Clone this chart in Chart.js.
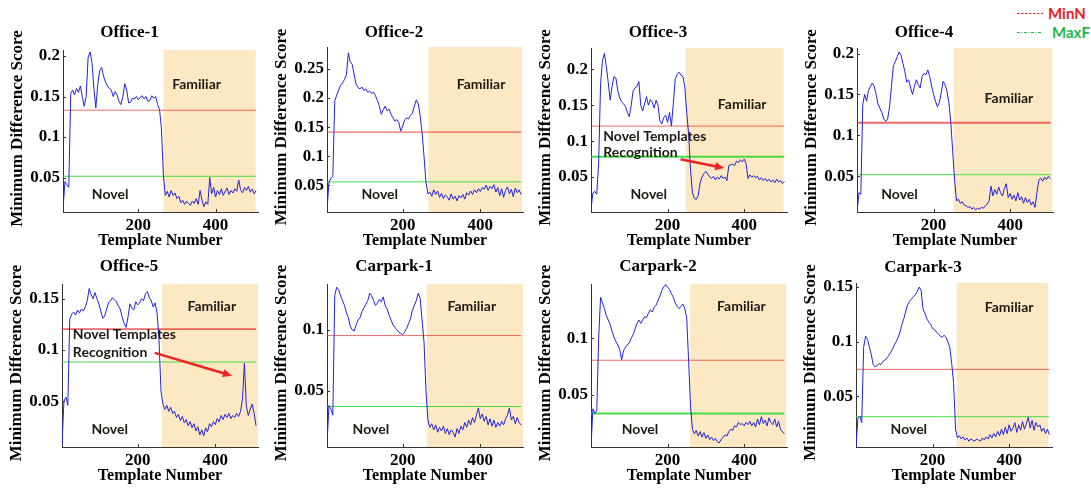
<!DOCTYPE html>
<html>
<head>
<meta charset="utf-8">
<title>Minimum Difference Score</title>
<script src="https://cdn.jsdelivr.net/npm/chart.js@4.4.1/dist/chart.umd.min.js"></script>
<style>
  body { margin: 0; background: #fff; }
  #figure { position: relative; width: 1091px; height: 489px; overflow: hidden; background: #fff; }
  #figure canvas { position: absolute; }
  .key { position: absolute; height: 18px; display: flex; align-items: center; font: bold 15px Lato, "Liberation Sans", sans-serif; }
  .key svg { display: block; }
</style>
</head>
<body>
<div id="figure">
  <div class="key" style="left:1017px; top:4px; color:#ee1c1c;">
    <svg width="27" height="18"><line x1="0" y1="9.5" x2="26" y2="9.5" stroke="#ee1c1c" stroke-width="1" stroke-dasharray="2.5 1.5"/></svg>
    <span style="margin-left:4px">MinN</span>
  </div>
  <div class="key" style="left:1017px; top:23px; color:#1fb845;">
    <svg width="25" height="18"><line x1="0" y1="9.5" x2="25" y2="9.5" stroke="#1fb845" stroke-width="1" stroke-dasharray="3 1.5 1 1.5"/></svg>
    <span style="margin-left:10px">MaxF</span>
  </div>
</div>
<script>
// x values (template number), shared by every panel
const templateNumbers = [0,5,10,15,20,25,30,35,40,45,50,55,60,65,70,75,80,85,90,95,
  100,105,110,115,120,125,130,135,140,145,150,155,160,165,170,175,180,185,190,195,
  200,205,210,215,220,225,230,235,240,245,250,255,260,265,270,275,280,285,290,295,
  300,305,310,315,320,325,330,335,340,345,350,355,360,365,370,375,380,385,390,395,
  400,405,410,415,420,425,430,435,440,445,450,455,460,465,470,475,480,485,490,495,
  500,505];

// minimum difference score
const office1 = [.008,.010,.045,.041,.038,.154,.158,.152,.160,.155,
  .163,.150,.138,.150,.198,.205,.192,.160,.136,.165,
  .182,.186,.175,.168,.163,.160,.158,.150,.156,.152,
  .144,.140,.150,.166,.158,.142,.143,.148,.147,.150,
  .146,.149,.151,.147,.150,.144,.145,.151,.148,.150,
  .140,.134,.110,.052,.028,.033,.026,.034,.028,.031,
  .024,.027,.019,.022,.017,.021,.018,.016,.021,.018,
  .024,.017,.034,.022,.014,.020,.017,.050,.030,.038,
  .026,.034,.029,.036,.028,.033,.037,.029,.034,.031,
  .036,.033,.047,.035,.031,.038,.034,.039,.032,.036,
  .030,.034];
const office2 = [.004,.006,.055,.062,.065,.195,.205,.214,.222,.226,
  .232,.240,.278,.262,.258,.240,.224,.218,.216,.219,
  .213,.216,.210,.212,.208,.210,.204,.196,.186,.172,
  .180,.186,.178,.181,.172,.166,.160,.163,.158,.143,
  .152,.162,.166,.164,.170,.174,.186,.197,.190,.170,
  .140,.100,.055,.035,.038,.031,.042,.034,.040,.029,
  .036,.027,.033,.030,.024,.035,.026,.031,.023,.032,
  .028,.034,.026,.037,.033,.040,.034,.042,.037,.044,
  .039,.046,.043,.050,.041,.048,.044,.051,.038,.046,
  .032,.044,.029,.041,.047,.035,.043,.030,.045,.037,
  .042,.034];
const office3 = [.005,.028,.030,.026,.070,.180,.212,.222,.204,.182,
  .157,.176,.190,.188,.170,.160,.155,.152,.148,.140,
  .134,.150,.170,.174,.176,.183,.150,.142,.152,.162,
  .150,.158,.154,.146,.157,.150,.128,.124,.133,.136,
  .126,.140,.121,.152,.186,.193,.196,.192,.190,.176,
  .140,.110,.060,.028,.020,.019,.024,.042,.050,.055,
  .058,.054,.050,.048,.051,.046,.050,.047,.052,.048,
  .050,.045,.066,.067,.068,.066,.072,.070,.074,.071,
  .075,.069,.048,.053,.050,.052,.049,.051,.046,.049,
  .045,.048,.044,.047,.043,.046,.042,.047,.043,.045,
  .041,.044];
const office4 = [.005,.030,.028,.138,.150,.142,.155,.160,.164,.160,
  .150,.138,.133,.128,.120,.117,.120,.135,.160,.185,
  .190,.196,.202,.198,.188,.178,.165,.168,.158,.150,
  .160,.168,.162,.158,.172,.176,.174,.180,.172,.160,
  .150,.142,.135,.140,.152,.166,.162,.154,.140,.116,
  .080,.045,.020,.022,.017,.019,.015,.014,.012,.013,
  .010,.012,.009,.011,.010,.012,.011,.014,.016,.020,
  .038,.026,.034,.028,.037,.030,.026,.035,.041,.024,
  .029,.022,.027,.020,.030,.021,.025,.017,.024,.018,
  .022,.015,.019,.012,.030,.045,.048,.044,.049,.046,
  .050,.047];
const office5 = [.005,.008,.050,.054,.046,.130,.135,.137,.134,.139,
  .136,.140,.138,.142,.148,.160,.154,.150,.156,.150,
  .145,.138,.131,.133,.140,.146,.148,.151,.149,.147,
  .143,.140,.132,.126,.122,.132,.145,.141,.139,.147,
  .144,.146,.150,.148,.155,.157,.151,.148,.142,.146,
  .136,.110,.060,.047,.042,.046,.040,.044,.038,.040,
  .034,.037,.031,.035,.029,.032,.026,.030,.024,.028,
  .021,.025,.017,.022,.016,.024,.020,.028,.025,.030,
  .027,.033,.030,.036,.032,.037,.034,.038,.033,.036,
  .034,.038,.035,.040,.052,.087,.045,.036,.042,.047,
  .038,.026];
const carpark1 = [.004,.006,.038,.035,.030,.128,.135,.133,.128,.124,
  .120,.114,.110,.103,.100,.099,.104,.108,.110,.115,
  .118,.121,.124,.130,.128,.124,.120,.122,.125,.123,
  .127,.120,.117,.112,.108,.104,.102,.100,.098,.097,
  .096,.098,.101,.105,.109,.116,.120,.124,.130,.126,
  .108,.090,.050,.026,.020,.023,.018,.022,.016,.020,
  .017,.021,.015,.019,.014,.018,.016,.012,.019,.015,
  .021,.018,.024,.020,.026,.022,.028,.024,.030,.036,
  .027,.031,.025,.029,.022,.027,.021,.026,.020,.024,
  .021,.025,.022,.027,.030,.036,.026,.029,.023,.028,
  .024,.022];
const carpark2 = [.004,.038,.034,.036,.100,.136,.131,.126,.120,.116,
  .112,.106,.101,.097,.094,.090,.081,.089,.092,.094,
  .096,.100,.103,.108,.113,.116,.113,.116,.119,.118,
  .122,.125,.123,.127,.129,.133,.137,.142,.145,.147,
  .145,.143,.139,.136,.131,.128,.126,.128,.130,.126,
  .118,.080,.040,.020,.016,.019,.014,.018,.013,.017,
  .012,.015,.011,.013,.010,.012,.009,.008,.011,.013,
  .015,.014,.018,.020,.019,.023,.022,.026,.024,.025,
  .023,.026,.024,.027,.023,.026,.022,.029,.024,.031,
  .025,.028,.023,.030,.026,.024,.029,.022,.027,.020,
  .018,.016];
const carpark3 = [.004,.030,.032,.026,.095,.105,.102,.095,.088,.079,
  .077,.078,.080,.079,.082,.083,.085,.087,.090,.093,
  .097,.100,.104,.109,.116,.121,.128,.134,.137,.139,
  .141,.143,.146,.150,.147,.130,.126,.121,.118,.116,
  .112,.111,.109,.107,.105,.104,.106,.104,.100,.095,
  .080,.062,.020,.012,.014,.011,.013,.010,.012,.009,
  .011,.010,.009,.011,.010,.009,.012,.010,.013,.011,
  .015,.012,.016,.013,.018,.014,.020,.015,.022,.016,
  .024,.018,.021,.026,.017,.024,.019,.027,.020,.025,
  .031,.021,.028,.019,.026,.022,.024,.018,.021,.016,
  .020,.015];

const panelTitles = ['Office-1', 'Office-2', 'Office-3', 'Office-4', 'Office-5', 'Carpark-1', 'Carpark-2', 'Carpark-3'];
const seriesValues = [office1, office2, office3, office4, office5, carpark1, carpark2, carpark3];
const minNScores = [0.1331, 0.1413, 0.1209, 0.1155, 0.1203, 0.0953, 0.0806, 0.0747];
const maxFScores = [0.0516, 0.0557, 0.0782, 0.0520, 0.0882, 0.0371, 0.0338, 0.0314];
const familiarRanges = [[265, 504], [266, 508], [247, 503], [252, 510], [262, 510], [262, 510], [259, 510], [263, 502]];
const xTickValues = [200, 400];
const yTickValues = [
  [0.05, 0.1, 0.15, 0.2], [0.05, 0.1, 0.15, 0.2, 0.25], [0.05, 0.1, 0.15, 0.2], [0.05, 0.1, 0.15, 0.2],
  [0.05, 0.1, 0.15], [0.05, 0.1], [0.05, 0.1], [0.05, 0.1, 0.15]
];
const lastTemplate = 505;

// layout: plot boxes on the page [left, top, right, bottom], axis limits, label spots (data units)
const plotBoxes = [
  [63, 50, 258, 212], [327, 47, 523, 212], [591, 48, 787, 212], [857, 48, 1053, 212],
  [62, 284, 258, 447], [327, 284, 523, 447], [591, 284, 787, 447], [856, 283, 1052, 447]
];
const titleCenters = [32.5, 32.5, 32.5, 32.5, 266.7, 266.7, 266.7, 267.5];
const xLimits = [[5, 510], [5, 510], [0, 512], [0, 512], [5, 510], [5, 510], [0, 512], [0, 512]];
const yLimits = [[0.0075, 0.2074], [0.0038, 0.288], [0.0013, 0.2297], [0.0064, 0.2068],
  [0.0052, 0.1644], [0.0039, 0.1376], [0.0044, 0.1476], [0.0037, 0.1537]];
const familiarSpots = [[351, 0.165], [402, 0.224], [395, 0.1508], [397, 0.1457], [391, 0.1425], [378, 0.1192], [393, 0.1279], [400, 0.1317]];
const novelSpots = [[127, 0.0293], [141, 0.0343], [151, 0.0255], [111, 0.0276], [128, 0.0223], [118, 0.0185], [128, 0.02], [138, 0.0196]];
// "Novel Templates Recognition" note: [text x, line1 y, line2 y, arrow x0, y0, x1, y1]
const recognitionNotes = { 2: [32, 0.107, 0.0848, 234, 0.0747, 348, 0.0625], 4: [33, 0.115, 0.098, 244, 0.0971, 443, 0.0748] };
const redWidths = [1, 1.2, 1, 2, 1.6, 1, 1, 1];
const greenWidths = [1, 1, 2, 1, 1, 1, 2, 1];

const serif = "'Liberation Serif', 'Times New Roman', serif";
const sans = "Lato, 'Liberation Sans', sans-serif";
const shadeColor = '#fce9c4';

function drawArrow(ctx, x0, y0, x1, y1) {
  const ang = Math.atan2(y1 - y0, x1 - x0);
  const head = 10;
  ctx.strokeStyle = '#f22222';
  ctx.fillStyle = '#f22222';
  ctx.lineWidth = 2.5;
  ctx.beginPath();
  ctx.moveTo(x0, y0);
  ctx.lineTo(x1 - head * 0.7 * Math.cos(ang), y1 - head * 0.7 * Math.sin(ang));
  ctx.stroke();
  ctx.beginPath();
  ctx.moveTo(x1, y1);
  ctx.lineTo(x1 - head * Math.cos(ang - 0.42), y1 - head * Math.sin(ang - 0.42));
  ctx.lineTo(x1 - head * Math.cos(ang + 0.42), y1 - head * Math.sin(ang + 0.42));
  ctx.closePath();
  ctx.fill();
}

function decorPlugin(i) {
  return {
    id: 'decor' + i,
    beforeDraw(chart) {
      // familiar region shading
      const { ctx, chartArea: a, scales: { x } } = chart;
      const x0 = x.getPixelForValue(familiarRanges[i][0]);
      const x1 = x.getPixelForValue(familiarRanges[i][1]);
      ctx.save();
      ctx.fillStyle = shadeColor;
      ctx.fillRect(x0, a.top, x1 - x0, a.bottom - a.top);
      ctx.restore();
    },
    afterDatasetsDraw(chart) {
      const { ctx, scales: { x, y } } = chart;
      ctx.save();
      ctx.font = 'bold 14px ' + sans;
      ctx.fillStyle = '#1e1a12';
      ctx.textAlign = 'center';
      ctx.textBaseline = 'middle';
      ctx.fillText('Familiar', x.getPixelForValue(familiarSpots[i][0]), y.getPixelForValue(familiarSpots[i][1]));
      ctx.fillText('Novel', x.getPixelForValue(novelSpots[i][0]), y.getPixelForValue(novelSpots[i][1]));
      const note = recognitionNotes[i];
      if (note) {
        ctx.textAlign = 'left';
        ctx.fillText('Novel Templates', x.getPixelForValue(note[0]), y.getPixelForValue(note[1]));
        ctx.fillText('Recognition', x.getPixelForValue(note[0]), y.getPixelForValue(note[2]));
        drawArrow(ctx, x.getPixelForValue(note[3]), y.getPixelForValue(note[4]),
          x.getPixelForValue(note[5]), y.getPixelForValue(note[6]));
      }
      ctx.restore();
    },
    afterDraw(chart) {
      const { ctx, chartArea: a, scales: { x, y } } = chart;
      ctx.save();
      // inward tick marks
      ctx.strokeStyle = '#333';
      ctx.lineWidth = 1;
      ctx.beginPath();
      xTickValues.forEach(v => {
        const px = Math.round(x.getPixelForValue(v)) + 0.5;
        ctx.moveTo(px, a.bottom);
        ctx.lineTo(px, a.bottom - 3);
      });
      yTickValues[i].forEach(v => {
        const py = Math.round(y.getPixelForValue(v)) + 0.5;
        ctx.moveTo(a.left, py);
        ctx.lineTo(a.left + 3, py);
      });
      ctx.stroke();
      // y axis title (longer than the axis, so drawn here)
      ctx.translate(a.left - 45, (a.top + a.bottom) / 2 - 2.5);
      ctx.rotate(-Math.PI / 2);
      ctx.font = 'bold 17px ' + serif;
      ctx.fillStyle = '#000';
      ctx.textAlign = 'center';
      ctx.textBaseline = 'middle';
      ctx.fillText('Minimum Difference Score', 0, 0);
      ctx.restore();
    }
  };
}

const figure = document.getElementById('figure');
const tickFont = { family: serif, size: 17, weight: 'bold' };

panelTitles.forEach((title, i) => {
  const [L, T, R, B] = plotBoxes[i];
  const top = T - 42;
  const left = L - 62;
  const width = R - left + 8;
  const height = B - top + 42;
  const canvas = document.createElement('canvas');
  canvas.width = width;
  canvas.height = height;
  canvas.style.left = left + 'px';
  canvas.style.top = top + 'px';
  canvas.style.width = width + 'px';
  canvas.style.height = height + 'px';
  figure.appendChild(canvas);

  const padTop = titleCenters[i] - top - 10.2;

  new Chart(canvas, {
    type: 'line',
    data: {
      datasets: [
        {
          data: templateNumbers.map((t, k) => ({ x: t, y: seriesValues[i][k] })),
          borderColor: 'rgb(35,35,215)',
          borderWidth: 1,
          pointRadius: 0,
          tension: 0
        },
        {
          data: [{ x: xLimits[i][0], y: minNScores[i] }, { x: lastTemplate, y: minNScores[i] }],
          borderColor: 'rgba(238,40,40,0.7)',
          borderWidth: redWidths[i],
          pointRadius: 0
        },
        {
          data: [{ x: xLimits[i][0], y: maxFScores[i] }, { x: lastTemplate, y: maxFScores[i] }],
          borderColor: 'rgba(40,215,40,0.85)',
          borderWidth: greenWidths[i],
          pointRadius: 0
        }
      ]
    },
    options: {
      responsive: false,
      animation: false,
      devicePixelRatio: 1,
      events: [],
      layout: { padding: { left: 0, right: 8, top: 0, bottom: 0 } },
      plugins: {
        legend: { display: false },
        tooltip: { enabled: false },
        title: {
          display: true,
          text: title,
          color: '#000',
          font: { family: serif, size: 17, weight: 'bold' },
          padding: { top: padTop, bottom: 42 - 20.4 - padTop }
        }
      },
      scales: {
        x: {
          type: 'linear',
          min: xLimits[i][0],
          max: xLimits[i][1],
          afterBuildTicks: ax => { ax.ticks = xTickValues.map(v => ({ value: v })); },
          afterFit: ax => { ax.height = 42; },
          ticks: { font: tickFont, color: '#000', padding: 3, maxRotation: 0, autoSkip: false, callback: v => String(v) },
          grid: { drawOnChartArea: false, drawTicks: false },
          border: { color: '#333', width: 1 },
          title: {
            display: true,
            text: 'Template Number',
            color: '#000',
            font: { family: serif, size: 16, weight: 'bold' },
            padding: { top: 0, bottom: 4 }
          }
        },
        y: {
          type: 'linear',
          min: yLimits[i][0],
          max: yLimits[i][1],
          afterBuildTicks: ax => { ax.ticks = yTickValues[i].map(v => ({ value: v })); },
          afterFit: ax => { ax.width = 62; },
          ticks: { font: tickFont, color: '#000', padding: 3, autoSkip: false, callback: v => String(+v.toFixed(2)) },
          grid: { drawOnChartArea: false, drawTicks: false },
          border: { color: '#333', width: 1 }
        }
      }
    },
    plugins: [decorPlugin(i)]
  });
});
</script>
</body>
</html>
